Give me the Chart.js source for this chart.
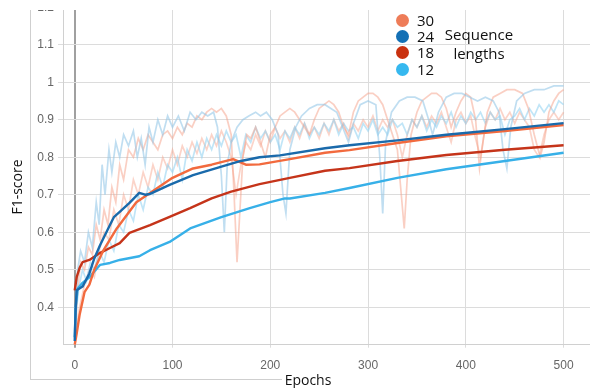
<!DOCTYPE html>
<html>
<head>
<meta charset="utf-8">
<script src="https://cdn.jsdelivr.net/npm/chart.js@4.4.1/dist/chart.umd.min.js"></script>
<style>
  body { margin: 0; width: 590px; height: 388px; background: #fff; position: relative; overflow: hidden; font-family: "Open Sans", sans-serif; }
  #wrap { position: absolute; left: 0; top: 10px; width: 590px; height: 378px; overflow: hidden; }
  #box { position: absolute; left: 0; top: -30px; width: 590px; height: 408px; }
  .frame { position: absolute; background: #cfcfcf; }
  .txt { position: absolute; color: #111; white-space: nowrap; }
  .dot { position: absolute; width: 13px; height: 13px; border-radius: 50%; }
</style>
</head>
<body>
<div id="wrap"><div id="box"><canvas id="f1chart"></canvas></div></div>

<div class="frame" style="left:30px;top:10px;width:1px;height:369px"></div>
<div class="frame" style="left:30px;top:379px;width:252px;height:1px"></div>

<div class="txt" style="left:16px;top:187px;font-size:14px;transform:translate(-50%,-50%) rotate(-90deg)">F1-score</div>
<div class="txt" style="left:308px;top:379px;font-size:14px;transform:translate(-50%,-50%)">Epochs</div>

<div id="legend"></div>

<script>
// sequence lengths shown in the legend (and their colours)
var seqLengths = ['30', '24', '18', '12'];
var seqColors = ['#f26a3e', '#1a6aab', '#c5341a', '#37b0e8'];
var dotColors = ['#ee7c58', '#1470b5', '#c9310f', '#36b8ef'];

var epochTicks = [0, 100, 200, 300, 400, 500];
var scoreTicks = [0.4, 0.5, 0.6, 0.7, 0.8, 0.9, 1, 1.1, 1.2];

// smoothed curves, [epoch, F1]
var seq30 = [[0,0.30],[2,0.33],[5,0.38],[10,0.44],[15,0.46],[20,0.50],[29,0.55],[43,0.61],[63,0.68],[80,0.71],
  [100,0.745],[121,0.77],[140,0.78],[162,0.795],[175,0.78],[189,0.781],[220,0.795],[256,0.812],[281,0.819],
  [330,0.838],[380,0.856],[440,0.87],[500,0.886]];
var seq24 = [[0,0.31],[1,0.40],[2,0.445],[8,0.455],[15,0.49],[20,0.53],[26,0.566],[36,0.619],[40,0.64],[46,0.654],
  [56,0.678],[66,0.705],[72,0.70],[77,0.702],[97,0.726],[121,0.752],[150,0.775],[170,0.79],[189,0.80],[210,0.805],
  [256,0.824],[281,0.832],[330,0.845],[380,0.86],[440,0.875],[500,0.891]];
var seq18 = [[0,0.445],[2,0.48],[5,0.505],[8,0.52],[15,0.526],[26,0.545],[36,0.558],[46,0.571],[56,0.598],[77,0.619],
  [97,0.641],[118,0.664],[140,0.69],[160,0.708],[189,0.728],[220,0.745],[256,0.764],[281,0.771],[330,0.79],
  [380,0.806],[440,0.82],[500,0.832]];
var seq12 = [[0,0.32],[1,0.40],[3,0.45],[8,0.465],[15,0.48],[26,0.513],[36,0.518],[46,0.526],[66,0.536],[77,0.552],
  [97,0.574],[118,0.61],[150,0.64],[179,0.664],[200,0.68],[215,0.69],[220,0.69],[256,0.705],[281,0.718],
  [330,0.745],[380,0.768],[440,0.79],[500,0.812]];

// raw (unsmoothed) runs drawn faintly behind
var rawBlueHigh = [[0,0.32],[3,0.50],[6,0.55],[10,0.52],[14,0.60],[18,0.56],[22,0.68],[25,0.62],[28,0.78],[31,0.70],
  [35,0.82],[38,0.76],[42,0.84],[46,0.80],[50,0.86],[55,0.83],[60,0.87],[64,0.80],[68,0.85],[72,0.78],[76,0.88],
  [80,0.84],[85,0.90],[90,0.86],[95,0.91],[100,0.88],[106,0.91],[112,0.87],[118,0.92],[124,0.90],[130,0.92],
  [136,0.91],[142,0.92],[146,0.88],[150,0.75],[153,0.60],[156,0.78],[160,0.84],[166,0.88],[172,0.90],[178,0.91],
  [185,0.92],[190,0.91],[196,0.92],[202,0.90],[208,0.86],[213,0.70],[216,0.65],[220,0.82],[226,0.88],[232,0.91],
  [240,0.93],[248,0.94],[256,0.94],[262,0.93],[268,0.92],[274,0.88],[280,0.84],[285,0.89],[292,0.94],[300,0.95],
  [308,0.94],[312,0.80],[315,0.65],[318,0.84],[324,0.92],[332,0.95],[340,0.96],[348,0.96],[356,0.95],[362,0.90],
  [366,0.86],[372,0.92],[380,0.96],[388,0.97],[396,0.97],[404,0.96],[412,0.95],[420,0.96],[428,0.95],[434,0.92],
  [438,0.82],[442,0.77],[446,0.88],[452,0.95],[460,0.97],[470,0.98],[480,0.98],[490,0.99],[500,0.99]];
var rawBlueLow = [[0,0.35],[4,0.45],[8,0.50],[12,0.47],[16,0.52],[20,0.50],[25,0.55],[30,0.52],[35,0.58],[40,0.55],
  [45,0.62],[50,0.60],[55,0.66],[60,0.63],[65,0.70],[70,0.66],[75,0.72],[80,0.70],[85,0.76],[90,0.72],[95,0.78],
  [100,0.76],[105,0.80],[110,0.74],[115,0.82],[120,0.79],[125,0.84],[130,0.80],[135,0.85],[140,0.82],[145,0.86],
  [150,0.83],[155,0.87],[160,0.84],[165,0.86],[170,0.80],[175,0.86],[180,0.84],[185,0.88],[190,0.85],[195,0.87],
  [200,0.84],[205,0.86],[210,0.82],[215,0.87],[220,0.85],[225,0.88],[230,0.86],[235,0.89],[240,0.85],[245,0.88],
  [250,0.86],[255,0.89],[260,0.87],[265,0.90],[270,0.86],[275,0.89],[280,0.87],[285,0.88],[290,0.85],[295,0.89],
  [300,0.87],[305,0.90],[310,0.86],[315,0.88],[320,0.86],[325,0.90],[330,0.88],[335,0.89],[340,0.86],[345,0.90],
  [350,0.88],[355,0.91],[360,0.87],[365,0.90],[370,0.88],[375,0.91],[380,0.89],[385,0.92],[390,0.88],[395,0.91],
  [400,0.89],[405,0.92],[410,0.90],[415,0.92],[420,0.89],[425,0.92],[430,0.90],[435,0.91],[440,0.86],[445,0.90],
  [450,0.91],[455,0.93],[460,0.90],[465,0.93],[470,0.91],[475,0.94],[480,0.92],[485,0.94],[490,0.92],[495,0.95],[500,0.94]];
var rawRedHigh = [[0,0.30],[3,0.45],[6,0.52],[10,0.50],[14,0.56],[18,0.54],[22,0.62],[26,0.58],[30,0.66],[34,0.62],
  [38,0.72],[42,0.68],[46,0.78],[50,0.74],[55,0.82],[60,0.80],[65,0.85],[70,0.82],[75,0.86],[80,0.84],[85,0.82],
  [90,0.86],[95,0.87],[100,0.85],[105,0.88],[110,0.86],[115,0.89],[120,0.88],[125,0.91],[130,0.90],[135,0.92],
  [140,0.93],[145,0.92],[150,0.93],[155,0.91],[160,0.86],[163,0.70],[166,0.52],[169,0.66],[172,0.80],[176,0.86],
  [180,0.85],[185,0.88],[190,0.84],[195,0.80],[200,0.86],[205,0.88],[210,0.91],[215,0.92],[220,0.93],[225,0.92],
  [230,0.90],[235,0.88],[240,0.86],[245,0.90],[250,0.93],[255,0.94],[260,0.95],[265,0.94],[270,0.92],[275,0.88],
  [280,0.86],[285,0.92],[290,0.95],[295,0.96],[300,0.97],[305,0.97],[310,0.96],[315,0.94],[320,0.90],[325,0.86],
  [330,0.82],[334,0.70],[337,0.61],[340,0.74],[344,0.86],[350,0.92],[355,0.95],[360,0.96],[365,0.97],[370,0.97],
  [375,0.96],[380,0.93],[385,0.88],[390,0.92],[395,0.95],[400,0.97],[405,0.96],[410,0.90],[414,0.77],[418,0.85],
  [422,0.92],[428,0.96],[435,0.97],[442,0.98],[450,0.98],[458,0.97],[464,0.93],[470,0.86],[476,0.80],[480,0.84],
  [485,0.92],[490,0.95],[495,0.97],[500,0.98]];
var rawRedLow = [[0,0.32],[5,0.40],[10,0.46],[15,0.50],[20,0.48],[25,0.55],[30,0.60],[35,0.58],[40,0.66],[45,0.62],
  [50,0.70],[55,0.66],[60,0.74],[65,0.70],[70,0.76],[75,0.72],[80,0.78],[85,0.74],[90,0.80],[95,0.77],[100,0.82],
  [105,0.78],[110,0.83],[115,0.80],[120,0.84],[125,0.81],[130,0.85],[135,0.82],[140,0.86],[145,0.83],[150,0.87],
  [155,0.84],[160,0.80],[165,0.70],[170,0.78],[175,0.84],[180,0.82],[185,0.86],[190,0.83],[195,0.87],[200,0.84],
  [205,0.88],[210,0.85],[215,0.87],[220,0.84],[225,0.88],[230,0.85],[235,0.89],[240,0.86],[245,0.88],[250,0.85],
  [255,0.89],[260,0.86],[265,0.90],[270,0.87],[275,0.89],[280,0.85],[285,0.89],[290,0.87],[295,0.90],[300,0.88],
  [305,0.91],[310,0.87],[315,0.90],[320,0.88],[325,0.90],[330,0.86],[335,0.80],[340,0.86],[345,0.90],[350,0.88],
  [355,0.91],[360,0.88],[365,0.91],[370,0.89],[375,0.92],[380,0.88],[385,0.84],[390,0.90],[395,0.92],[400,0.89],
  [405,0.91],[410,0.85],[415,0.80],[420,0.88],[425,0.92],[430,0.90],[435,0.93],[440,0.90],[445,0.92],[450,0.89],
  [455,0.92],[460,0.90],[465,0.88],[470,0.82],[475,0.80],[480,0.86],[485,0.90],[490,0.92],[495,0.90],[500,0.92]];

function pts(arr) { return arr.map(p => ({ x: p[0], y: p[1] })); }

function mainLine(data, color) {
    return { data: pts(data), borderColor: color, borderWidth: 2.4, pointRadius: 0, tension: 0, borderJoinStyle: 'round' };
}
function faintLine(data, color) {
    return { data: pts(data), borderColor: color, borderWidth: 1.7, pointRadius: 0, tension: 0 };
}

// legend: dots + numbers, then "Sequence lengths"
var legend = document.getElementById('legend');
var dotY = [20, 36, 52, 69];
seqLengths.forEach((s, i) => {
    legend.insertAdjacentHTML('beforeend',
        '<div class="dot" style="left:396px;top:' + (dotY[i] - 6.5) + 'px;background:' + dotColors[i] + '"></div>' +
        '<div class="txt" style="left:417px;top:' + dotY[i] + 'px;font-size:15px;transform:translateY(-50%)">' + s + '</div>');
});
legend.insertAdjacentHTML('beforeend',
    '<div class="txt" style="left:479px;top:34px;font-size:15px;transform:translate(-50%,-50%)">Sequence</div>' +
    '<div class="txt" style="left:479px;top:53px;font-size:15px;transform:translate(-50%,-50%)">lengths</div>');

var ctx = document.getElementById('f1chart').getContext('2d');
var myChart = new Chart(ctx, {
    type: 'line',
    data: {
        datasets: [
            mainLine(seq24, seqColors[1]),
            mainLine(seq30, seqColors[0]),
            mainLine(seq18, seqColors[2]),
            mainLine(seq12, seqColors[3]),
            faintLine(rawBlueHigh, 'rgba(150,200,232,0.6)'),
            faintLine(rawRedHigh, 'rgba(246,160,135,0.5)'),
            faintLine(rawBlueLow, 'rgba(150,212,242,0.6)'),
            faintLine(rawRedLow, 'rgba(246,160,135,0.45)')
        ]
    },
    options: {
        responsive: true,
        maintainAspectRatio: false,
        animation: false,
        layout: { padding: { top: 19.7, left: 0, right: 0, bottom: 0 } },
        plugins: { legend: { display: false }, tooltip: { enabled: false } },
        scales: {
            x: {
                type: 'linear',
                min: -12,
                max: 527,
                afterBuildTicks: s => { s.ticks = epochTicks.map(v => ({ value: v })); },
                afterFit: s => { s.height = 43.3; },
                ticks: { font: { family: 'Liberation Sans', size: 12 }, color: '#666', padding: 11, maxRotation: 0, callback: v => String(v) },
                grid: {
                    color: c => (c.tick && c.tick.value === 0) ? '#a0a0a0' : '#dcdcdc',
                    lineWidth: c => (c.tick && c.tick.value === 0) ? 2 : 1,
                    tickLength: 3
                },
                border: { color: '#d0d0d0' }
            },
            y: {
                min: 0.3,
                max: 1.22,
                afterBuildTicks: s => { s.ticks = scoreTicks.map(v => ({ value: v })); },
                afterFit: s => { s.width = 63; },
                ticks: { font: { family: 'Liberation Sans', size: 12 }, color: '#666', padding: 4, callback: v => String(v) },
                grid: { color: '#dcdcdc', lineWidth: 1, tickLength: 5 },
                border: { color: '#d0d0d0' }
            }
        }
    }
});
</script>
</body>
</html>
